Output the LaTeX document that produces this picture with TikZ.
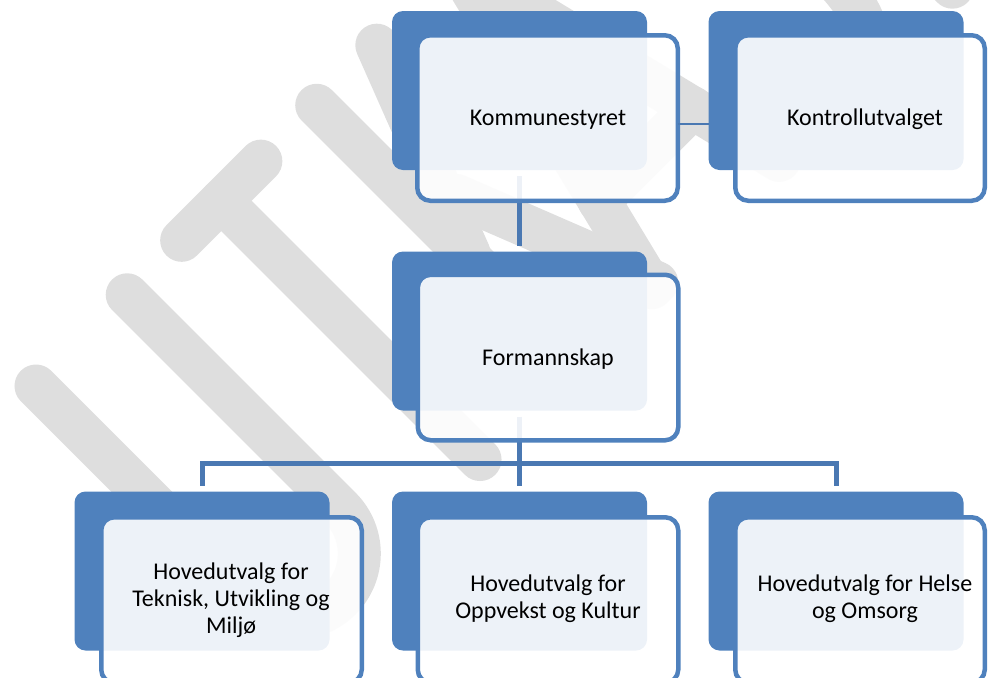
\documentclass[tikz,border=0pt]{standalone}
\usepackage{fontspec}
\setmainfont{Carlito}
\usetikzlibrary{calc}
\definecolor{boxblue}{RGB}{79,129,189}
\definecolor{connblue}{RGB}{74,120,178}
\definecolor{wmgrey}{RGB}{222,222,222}
\tikzset{
  backbox/.style={fill=boxblue, draw=none, rounded corners=11pt, inner sep=0pt, outer sep=0pt,
    minimum width=255pt, minimum height=159pt},
  frontbox/.style={draw=boxblue, line width=4.5pt, fill=white, fill opacity=0.9,
    rounded corners=13pt, inner sep=0pt, outer sep=0pt,
    minimum width=260.5pt, minimum height=165.5pt},
  boxlabel/.style={font=\fontsize{24}{27}\selectfont, align=center, text=black, inner sep=0pt},
  conn/.style={draw=connblue, line width=5pt, shorten <=6pt, shorten >=6pt},
  thinconn/.style={draw=connblue, line width=1.6pt},
  wm/.style={draw=wmgrey, line width=43pt, line cap=round, line join=round}
}
\begin{document}
\begin{tikzpicture}[x=1pt, y=-1pt]
\useasboundingbox (0,0) rectangle (989,678);
\clip (0,0) rectangle (989,678);
% watermark
\begin{scope}[shift={(310,660)}, x={(0.7071pt,0.7071pt)}, y={(-0.7071pt,0.7071pt)}]
  \draw[wm] (0,387.5) -- (0,86) arc[start angle=180, end angle=360, radius=64.5] -- (129,387.5);
  \draw[wm] (206,387.5) -- (318,387.5);
  \draw[wm] (262,387.5) -- (262,21.5);
  \draw[wm] (397,21.5) -- (397,387.5);
  \draw[wm] (482,387.5) -- (400,175);
  \draw[wm] (432,225) -- (512,21.5);
  \draw[wm] (505,21.5) -- (595,387.5) -- (685,21.5);
  \draw[wm] (529,120) -- (661,120);
  \draw[wm] (852,345) .. controls (835,380) and (815,387.5) .. (790,387.5)
     .. controls (755,387.5) and (735,365) .. (735,305)
     .. controls (735,235) and (852,250) .. (852,115)
     .. controls (852,45) and (820,21.5) .. (788,21.5)
     .. controls (760,21.5) and (738,35) .. (728,60);
  \draw[wm] (875,387.5) -- (985,387.5);
  \draw[wm] (930,387.5) -- (930,21.5);
\end{scope}
% back boxes
\node[backbox] (ks)  at (519.5,90.5) {};
\node[backbox] (kob) at (836,90.5) {};
\node[backbox] (fs)  at (519.5,331) {};
\node[backbox] (hb1) at (202,571) {};
\node[backbox] (hb2) at (519.5,571) {};
\node[backbox] (hb3) at (836,571) {};
% connectors
\draw[conn] (ks.south) -- (fs.north);
\draw[conn] (fs.south) -- (hb2.north);
\draw[conn] (hb1.north) -- ++(0,-28) -| (hb3.north);
\coordinate (kc) at (0,124);
% front boxes
\node[frontbox] (kf)  at (547.5,118) {};
\draw[thinconn] (kc -| kf.east) -- (kc -| kob.west);
\node[frontbox, minimum width=249.5pt] (kof) at (860,118) {};
\node[frontbox] (ff)  at (548,357.5) {};
\node[frontbox] (hf1) at (231.5,600) {};
\node[frontbox] (hf2) at (548,600) {};
\node[frontbox, minimum width=249.5pt] (hf3) at (860,600) {};
% labels
\node[boxlabel, anchor=base] (kt)  at (548,125) {Kommunestyret};
\node[boxlabel, anchor=base] (kot) at (865,125) {Kontrollutvalget};
\node[boxlabel, anchor=base] (ft)  at (548,365) {Formannskap};
\node[boxlabel] (ht1) at (231,600) {Hovedutvalg for\\Teknisk, Utvikling og\\Miljø};
\node[boxlabel] (ht2) at (548,599) {Hovedutvalg for\\Oppvekst og Kultur};
\node[boxlabel] (ht3) at (865,599) {Hovedutvalg for Helse\\og Omsorg};
\end{tikzpicture}
\end{document}
